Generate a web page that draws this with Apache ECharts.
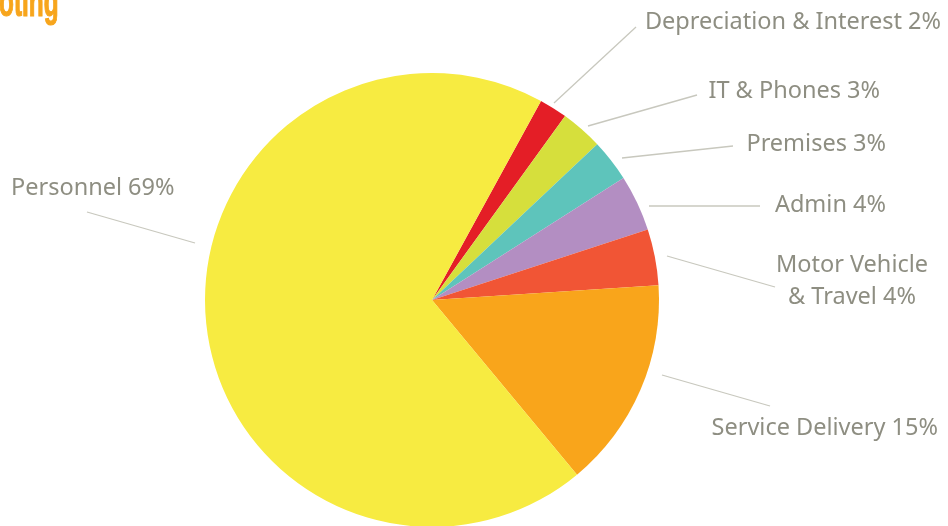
<!DOCTYPE html>
<html>
<head>
<meta charset="utf-8">
<script src="https://cdn.jsdelivr.net/npm/echarts@6/dist/echarts.min.js"></script>
<style>
html,body{margin:0;padding:0;background:#fff;}
#main{width:948px;height:526px;}
</style>
</head>
<body>
<div id="main"></div>
<script>
var categories = ['Depreciation & Interest', 'IT & Phones', 'Premises', 'Admin', 'Motor Vehicle & Travel', 'Service Delivery', 'Personnel'];
var values = [2, 3, 3, 4, 4, 15, 69];
var colors = ['#E41E26', '#D6DF3C', '#5EC4BB', '#B38EC2', '#F15535', '#F9A51B', '#F7EB41'];

// label placement (layout only)
var labelPos = [
  {x: 941, y: 22, align: 'right', line: [[554,103],[636,27]]},
  {x: 880, y: 91, align: 'right', line: [[588,126],[697,95]]},
  {x: 886, y: 144, align: 'right', line: [[622,158],[733,146]]},
  {x: 886, y: 205, align: 'right', line: [[649,206],[760,206]]},
  {x: 852, y: 281, align: 'center', line: [[667,256],[775,287]]},
  {x: 938, y: 428, align: 'right', line: [[662,375],[770,406]]},
  {x: 11, y: 188, align: 'left', line: [[87,212],[195,243]]}
];

var chart = echarts.init(document.getElementById('main'), null, {renderer: 'canvas'});
chart.setOption({
  animation: false,
  graphic: [{
    type: 'text',
    x: -1,
    y: -17,
    scaleX: 0.58,
    style: {
      text: 'oting',
      fill: '#F7A51C',
      stroke: '#F7A51C',
      lineWidth: 1.2,
      font: 'bold 42px "Liberation Sans", sans-serif'
    }
  }],
  series: [{
    type: 'pie',
    center: [432, 300],
    radius: 227,
    startAngle: 61.3,
    clockwise: true,
    data: categories.map(function (c, i) {
      return {name: c, value: values[i], itemStyle: {color: colors[i]}};
    }),
    label: {
      show: true,
      color: '#8E8E82',
      fontSize: 23.5,
      fontFamily: '"Noto Sans", sans-serif',
      lineHeight: 32,
      overflow: 'none',
      formatter: function (p) {
        return p.name.replace(' & Travel', '\n& Travel') + ' ' + values[p.dataIndex] + '%';
      }
    },
    labelLine: {
      show: true,
      lineStyle: {color: '#C8C8BE', width: 1.3}
    },
    labelLayout: function (params) {
      var lp = labelPos[params.dataIndex];
      return {
        x: lp.x,
        y: lp.y,
        align: lp.align,
        verticalAlign: 'middle',
        width: 400,
        labelLinePoints: [lp.line[0], lp.line[1], lp.line[1]]
      };
    }
  }]
});
</script>
</body>
</html>
